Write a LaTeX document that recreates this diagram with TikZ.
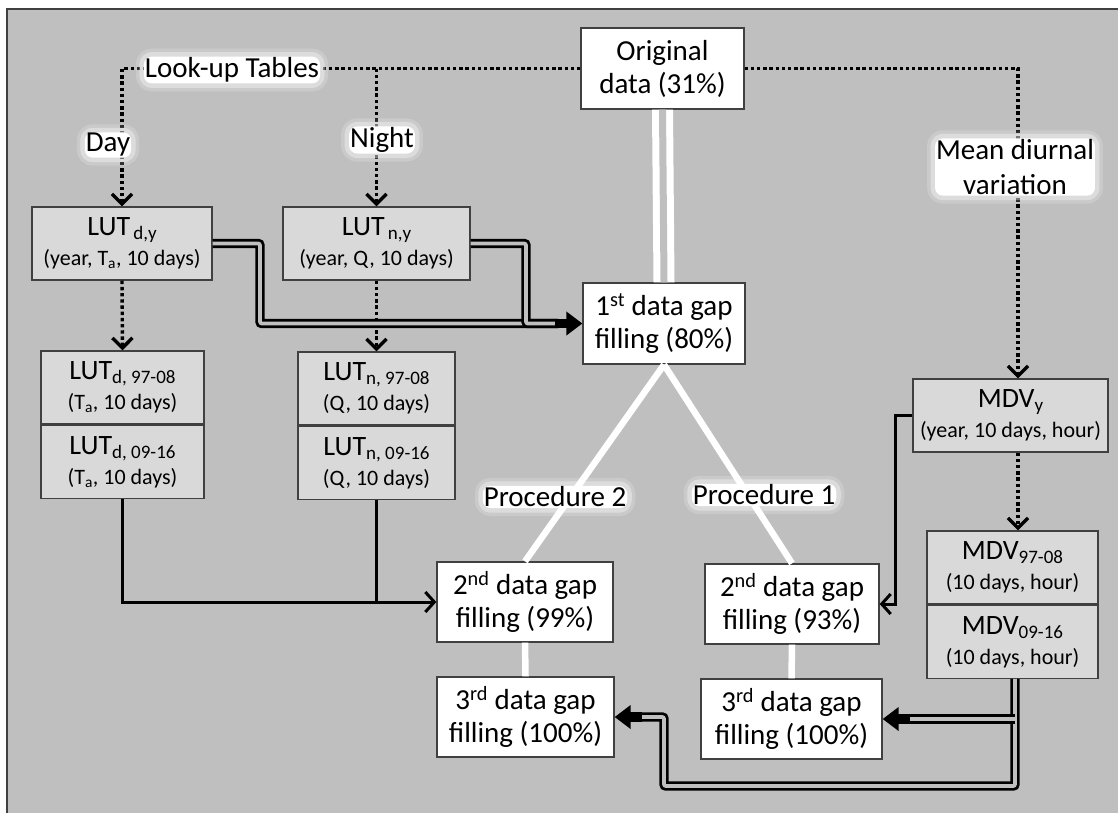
\documentclass[tikz,border=0pt]{standalone}
\usepackage{fontspec}
\setmainfont{Carlito}
\usetikzlibrary{arrows.meta,calc}
\definecolor{bgray}{HTML}{BFBFBF}
\definecolor{boxgray}{HTML}{D9D9D9}
\definecolor{edge}{HTML}{404040}
\newcommand\bigtxt{\fontsize{29}{33}\selectfont}
\newcommand\luttxt{\fontsize{28}{30}\selectfont}
\newcommand\smalltxt{\fontsize{22}{25}\selectfont}
\newcommand\lsub[1]{\raisebox{-0.3ex}{\fontsize{19}{19}\selectfont #1}}
\tikzstyle{lut}=[draw=edge, line width=1.3pt, fill=boxgray, align=center, inner sep=0pt, font=\luttxt, minimum height=73pt]
\tikzstyle{stage}=[draw=edge, line width=1.3pt, fill=white, align=center, inner sep=0pt, font=\bigtxt, minimum height=80pt]
\tikzstyle{glow}=[fill=white, rounded corners=8pt, inner sep=1pt, font=\fontsize{29}{35}\selectfont, align=center,
    preaction={draw=white, line width=16pt, draw opacity=0.18},
    preaction={draw=white, line width=9pt, draw opacity=0.35}]
\tikzstyle{dots}=[line width=3.4pt, dash pattern=on 3.4pt off 2.8pt, -{Straight Barb[length=10pt,width=20pt]}]
\tikzstyle{feed}=[line width=3pt, -{Straight Barb[length=9pt,width=20pt]}]
\tikzstyle{dbl}=[draw=black, double=bgray, line width=2.8pt, double distance=3.8pt, rounded corners=2pt]
\tikzstyle{dbltip}=[line width=9.4pt, -{Triangle[length=16pt,width=23pt]}]
\tikzstyle{branch}=[white, line width=6.5pt]

\begin{document}
\begin{tikzpicture}[x=1pt, y=-1pt]
\useasboundingbox (0,0) rectangle (1118,812);
% Background
    \fill[bgray] (7,9) rectangle (1130,820);
    \draw[edge, line width=1.5pt] (1130,9) -- (7,9) -- (7,820);
% Gap filling stages
    \node[stage, minimum width=163pt, minimum height=81pt] (orig) at (662.5,68.5) {Original\\data (31\%)};
    \node[stage, minimum width=162pt, minimum height=81pt] (first) at (664,323.5) {1\textsuperscript{st} data gap\\filling (80\%)};
    \node[stage, minimum width=176pt] (secB) at (525,602) {2\textsuperscript{nd} data gap\\filling (99\%)};
    \node[stage, minimum width=174pt] (secA) at (792,604) {2\textsuperscript{nd} data gap\\filling (93\%)};
    \node[stage, minimum width=177pt] (thrB) at (525.5,717) {3\textsuperscript{rd} data gap\\filling (100\%)};
    \node[stage, minimum width=181pt] (thrA) at (791.5,719) {3\textsuperscript{rd} data gap\\filling (100\%)};
% Look-up tables
    \node[lut, minimum width=180pt] (lutdy) at (122,243.5) {LUT\lsub{\,d,y}\\\smalltxt (year, T\textsubscript{a}, 10 days)};
    \node[lut, minimum width=187pt] (lutny) at (376.5,243.5) {LUT\lsub{\,n,y}\\\smalltxt (year, Q, 10 days)};
    \node[lut, minimum width=163pt] (lutd1) at (122.5,387.5) {LUT\lsub{d, 97-08}\\\smalltxt (T\textsubscript{a}, 10 days)};
    \node[lut, minimum width=163pt, anchor=north] (lutd2) at (lutd1.south) {LUT\lsub{d, 09-16}\\\smalltxt (T\textsubscript{a}, 10 days)};
    \node[lut, minimum width=157pt] (lutn1) at (376.5,388.5) {LUT\lsub{n, 97-08}\\\smalltxt (Q, 10 days)};
    \node[lut, minimum width=157pt, anchor=north] (lutn2) at (lutn1.south) {LUT\lsub{n, 09-16}\\\smalltxt (Q, 10 days)};
% Mean diurnal variation
    \node[lut, minimum width=195pt] (mdvy) at (1010.5,415.5) {MDV\lsub{y}\\\smalltxt (year, 10 days, hour)};
    \node[lut, minimum width=171pt] (mdv1) at (1012.5,567.5) {MDV\lsub{97-08}\\\smalltxt (10 days, hour)};
    \node[lut, minimum width=171pt, anchor=north] (mdv2) at (mdv1.south) {MDV\lsub{09-16}\\\smalltxt (10 days, hour)};
% Helper points
    \coordinate (mdvx) at (1018,0);
    \coordinate (mdvk) at (895,0);
    \coordinate (dyk) at (260,0);
    \coordinate (nyk) at (526,0);
    \coordinate (mdvd) at (1015,786);
    \coordinate (bend) at (664,786);
% Dotted branches
    \draw[dots] (orig.west) -| (lutdy.north);
    \draw[dots] (orig.west -| lutny.north) -- (lutny.north);
    \draw[dots] (lutdy.south) -- (lutd1.north);
    \draw[dots] (lutny.south) -- (lutn1.north);
    \draw[dots] (orig.east) -| (mdvy.north -| mdvx);
    \draw[dots] (mdvy.south -| mdvx) -- (mdv1.north -| mdvx);
% White procedure lines
    \draw[draw=white, double=bgray, line width=7pt, double distance=7pt] (orig.south) -- (first.north);
    \draw[branch] (first.south) -- (secB.north);
    \draw[branch] (first.south) -- (secA.north);
    \draw[branch] (secB.south) -- (thrB.north);
    \draw[branch] (secA.south) -- (thrA.north);
% Year tables into 1st gap filling
    \draw[dbl] (lutdy.east) -| (dyk |- first.west) -- ($(first.west)+(-24,0)$);
    \draw[dbl] (lutny.east) -| (nyk |- first.west) -- ($(first.west)+(-24,0)$);
    \draw[dbltip] ($(first.west)+(-27,0)$) -- (first.west);
% Period tables into 2nd gap filling
    \draw[feed] (lutd2.south) |- (secB.west);
    \draw[line width=3pt] (lutn2.south) -- (lutn2.south |- secB.west);
    \draw[feed] (mdvy.west) -| (mdvk |- secA.east) -- (secA.east);
% Period MDV into 3rd gap filling
    \draw[dbl] (mdv2.south -| mdvd) -- (mdvd) -- (bend) -- (bend |- thrB.east) -- ($(thrB.east)+(24,0)$);
    \draw[dbltip] ($(thrB.east)+(27,0)$) -- (thrB.east);
    \draw[dbl] (mdvd |- thrA.east) -- ($(thrA.east)+(24,0)$);
    \draw[dbltip] ($(thrA.east)+(27,0)$) -- (thrA.east);
% Labels
    \node[glow] (lookup) at (232,70) {Look-up Tables};
    \node[glow] (day) at (108,145) {Day};
    \node[glow] (night) at (382,140) {Night};
    \node[glow] (mdvlabel) at (1015,167) {Mean diurnal\\variation};
    \node[glow] (proc2) at (555,497) {Procedure 2};
    \node[glow] (proc1) at (764,495) {Procedure 1};
\end{tikzpicture}
\end{document}
